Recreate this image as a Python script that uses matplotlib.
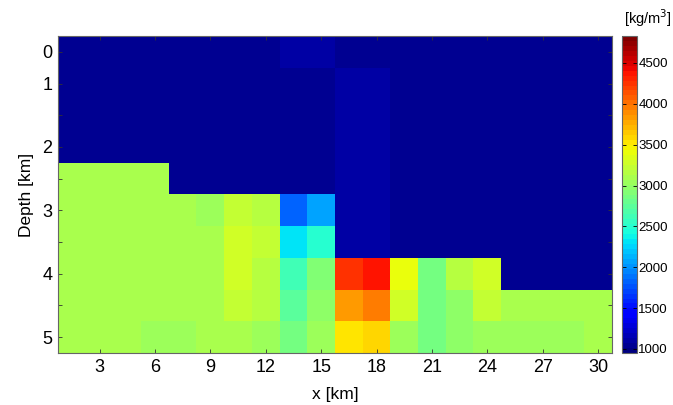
import numpy as np
import matplotlib
matplotlib.use("Agg")
import matplotlib.pyplot as plt

plt.rcParams['font.family'] = ['Liberation Sans', 'DejaVu Sans']

# Density model, one row per depth level, one column per 1.5 km cell
x_centers = [1.5, 3, 4.5, 6, 7.5, 9, 10.5, 12, 13.5, 15,
             16.5, 18, 19.5, 21, 22.5, 24, 25.5, 27, 28.5, 30]
depth_labels = ['0', '1', '', '2', '', '3', '', '4', '', '5']

density = [
    [1040, 1040, 1040, 1040, 1040, 1040, 1040, 1040, 1090, 1090,
     1040, 1040, 1040, 1040, 1040, 1040, 1040, 1040, 1040, 1040],
    [1040, 1040, 1040, 1040, 1040, 1040, 1040, 1040, 1040, 1040,
     1090, 1090, 1040, 1040, 1040, 1040, 1040, 1040, 1040, 1040],
    [1040, 1040, 1040, 1040, 1040, 1040, 1040, 1040, 1040, 1040,
     1090, 1090, 1040, 1040, 1040, 1040, 1040, 1040, 1040, 1040],
    [1040, 1040, 1040, 1040, 1040, 1040, 1040, 1040, 1040, 1040,
     1090, 1090, 1040, 1040, 1040, 1040, 1040, 1040, 1040, 1040],
    [3110, 3110, 3110, 3110, 1040, 1040, 1040, 1040, 1040, 1040,
     1090, 1090, 1040, 1040, 1040, 1040, 1040, 1040, 1040, 1040],
    [3110, 3110, 3110, 3110, 3110, 3030, 3230, 3150, 1815, 2080,
     1090, 1090, 1040, 1040, 1040, 1040, 1040, 1040, 1040, 1040],
    [3110, 3110, 3110, 3110, 3110, 3110, 3280, 3210, 2290, 2525,
     1090, 1090, 1040, 1040, 1040, 1040, 1040, 1040, 1040, 1040],
    [3110, 3110, 3110, 3110, 3110, 3110, 3260, 3140, 2600, 2925,
     4250, 4400, 3410, 2880, 3190, 3260, 1040, 1040, 1040, 1040],
    [3110, 3110, 3110, 3110, 3110, 3110, 3200, 3140, 2760, 2970,
     3800, 3950, 3260, 2880, 2990, 3230, 3110, 3110, 3110, 3110],
    [3110, 3110, 3110, 3050, 3050, 3110, 3110, 3050, 2830, 3050,
     3500, 3575, 3050, 2880, 2970, 3050, 3050, 3050, 3050, 3110],
]

cbar_ticks = [1000, 1500, 2000, 2500, 3000, 3500, 4000, 4500]
vmin, vmax = 950, 4830

fig = plt.figure(figsize=(6.73, 4.05), dpi=100)
ax = fig.add_axes([58/673, 52/405, 554/673, 317/405])
cax = fig.add_axes([622/673, 52/405, 15/673, 317/405])

dx = x_centers[1] - x_centers[0]
extent = (x_centers[0] - dx/2, x_centers[-1] + dx/2, len(density) - 0.5, -0.5)
cmap = plt.get_cmap('jet', 64)
im = ax.imshow(np.array(density), cmap=cmap, vmin=vmin, vmax=vmax,
               extent=extent, aspect='auto', interpolation='nearest')

ax.set_xticks([3, 6, 9, 12, 15, 18, 21, 24, 27, 30])
ax.set_yticks(range(len(depth_labels)))
ax.set_yticklabels(depth_labels)
ax.tick_params(direction='in', length=3, width=0.6, color='#333333',
               top=True, right=True, labelsize=13, pad=4)
for s in ax.spines.values():
    s.set_color('#666666')
    s.set_linewidth(0.8)
ax.set_xlabel('x [km]', fontsize=12.5, labelpad=8)
ax.set_ylabel('Depth [km]', fontsize=12.5, labelpad=6)

cb = fig.colorbar(im, cax=cax, ticks=cbar_ticks)
cb.ax.tick_params(direction='in', length=3, width=0.6, labelsize=9.5,
                  left=True, right=True, pad=1)
cb.outline.set_edgecolor('#666666')
cb.outline.set_linewidth(0.8)
fig.text(648/673, 1 - 18/405, '[kg/m$^3$]', fontsize=10.5, ha='center', va='center')

fig.savefig('out.png', dpi=100)
